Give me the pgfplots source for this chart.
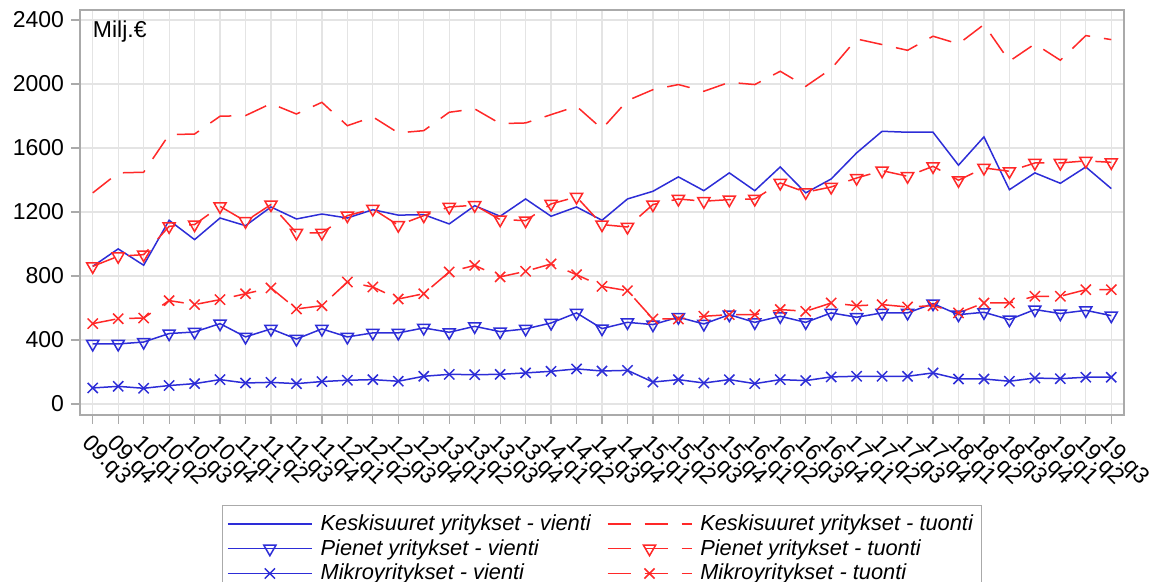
\documentclass[border=0pt]{standalone}
\usepackage{pgfplots}
\pgfplotsset{compat=1.18}
\usepackage{pgfplotstable}
\usepackage{fontspec}
\setmainfont{Liberation Sans}
\definecolor{cblue}{RGB}{45,45,215}
\definecolor{cred}{RGB}{255,40,40}
\definecolor{cgrid}{RGB}{228,228,228}
\definecolor{cframe}{RGB}{170,170,170}
\pgfplotstableread{
i kv pv mv kt pt mt
0 860 375 100 1319 860 502
1 969 375 110 1444 923 533
2 867 387 98 1448 933 537
3 1148 440 115 1683 1110 646
4 1027 450 127 1687 1121 621
5 1162 502 152 1798 1235 652
6 1114 419 131 1802 1142 689
7 1231 469 135 1877 1246 725
8 1156 406 127 1812 1069 594
9 1187 469 140 1885 1069 614
10 1162 419 148 1739 1177 762
11 1214 444 152 1794 1219 731
12 1180 444 142 1694 1117 656
13 1183 475 173 1708 1177 689
14 1125 448 185 1823 1231 825
15 1239 485 183 1844 1242 866
16 1173 452 185 1752 1152 794
17 1281 469 194 1756 1146 829
18 1173 506 204 1808 1250 875
19 1231 569 219 1860 1294 808
20 1148 471 206 1719 1121 735
21 1281 510 210 1896 1106 708
22 1329 496 137 1964 1246 531
23 1419 542 152 1996 1281 531
24 1333 500 131 1954 1267 548
25 1444 558 152 2010 1277 558
26 1333 510 127 1996 1281 558
27 1481 548 152 2079 1381 590
28 1319 510 146 1985 1323 579
29 1406 569 169 2094 1356 631
30 1569 542 173 2281 1412 614
31 1704 569 173 2246 1458 621
32 1698 569 173 2210 1423 606
33 1698 627 194 2298 1485 614
34 1492 558 156 2250 1398 569
35 1669 573 156 2371 1475 631
36 1339 527 142 2142 1454 631
37 1444 590 162 2250 1506 673
38 1379 565 158 2148 1506 673
39 1481 585 167 2302 1519 714
40 1346 552 167 2277 1510 714
}\data
\begin{document}
\begin{tikzpicture}
\useasboundingbox (-40pt,-83.5pt) rectangle (535.5pt,207.5pt);
\begin{axis}[
  scale only axis, width=522pt, height=202.5pt,
  at={(0,0)}, anchor=south west,
  xmin=-0.5, xmax=40.5, ymin=-69, ymax=2462,
  xtick={0,...,40},
  xticklabels={09.q3,09.q4,10.q1,10.q2,10.q3,10.q4,11.q1,11.q2,11.q3,11.q4,12.q1,12.q2,12.q3,12.q4,13.q1,13.q2,13.q3,13.q4,14.q1,14.q2,14.q3,14.q4,15.q1,15.q2,15.q3,15.q4,16.q1,16.q2,16.q3,16.q4,17.q1,17.q2,17.q3,17.q4,18.q1,18.q2,18.q3,18.q4,19.q1,19.q2,19.q3},
  ytick={0,400,...,2400},
  scaled y ticks=false,
  grid=major, major grid style={cgrid, line width=0.6pt},
  axis line style={cframe, line width=0.8pt},
  tick style={cframe, line width=0.6pt},
  tick align=outside, major tick length=4.5pt,
  xtick pos=bottom, ytick pos=left,
  tick label style={font=\fontsize{11.5}{13}\selectfont},
  yticklabel style={/pgf/number format/assume math mode=true, /pgf/number format/1000 sep={}},
  xticklabel style={rotate=-45, anchor=north west, inner sep=1pt},
  xticklabel shift=3pt,
  legend columns=2,
  legend cell align=left,
  legend style={at={(0.5,-0.222)}, anchor=north, draw=cframe, line width=0.6pt,
    font=\itshape\fontsize{10.9}{12.5}\selectfont,
    /tikz/every even column/.append style={column sep=6pt},
    inner sep=2.5pt, row sep=-1pt},
  legend image code/.code={\draw[line width=0.75pt,mark repeat=2,mark phase=2,#1] plot coordinates {(0pt,0pt) (21pt,0pt) (42pt,0pt)}; \path (44pt,0pt);},
  every axis plot/.append style={line width=0.75pt},
  clip=false,
]
\addplot[cblue, no markers] table[x=i,y=kv]{\data};
\addlegendentry{Keskisuuret yritykset - vienti}
\addplot[cred, dash pattern=on 11.5pt off 7pt, no markers] table[x=i,y=kt]{\data};
\addlegendentry{Keskisuuret yritykset - tuonti}
\addplot[cblue, mark=triangle, mark size=3.5pt, mark options={solid, rotate=180, fill=none}] table[x=i,y=pv]{\data};
\addlegendentry{Pienet yritykset - vienti}
\addplot[cred, dash pattern=on 11.5pt off 7pt, mark=triangle, mark size=3.5pt, mark options={solid, rotate=180, fill=none}] table[x=i,y=pt]{\data};
\addlegendentry{Pienet yritykset - tuonti}
\addplot[cblue, mark=x, mark size=3.6pt, mark options={solid}] table[x=i,y=mv]{\data};
\addlegendentry{Mikroyritykset - vienti}
\addplot[cred, dash pattern=on 11.5pt off 7pt, mark=x, mark size=3.6pt, mark options={solid}] table[x=i,y=mt]{\data};
\addlegendentry{Mikroyritykset - tuonti}
\node[anchor=north west, inner sep=0pt, font=\fontsize{11.5}{13}\selectfont] at (rel axis cs:0.012,0.973) {Milj.€};
\end{axis}
\end{tikzpicture}
\end{document}
